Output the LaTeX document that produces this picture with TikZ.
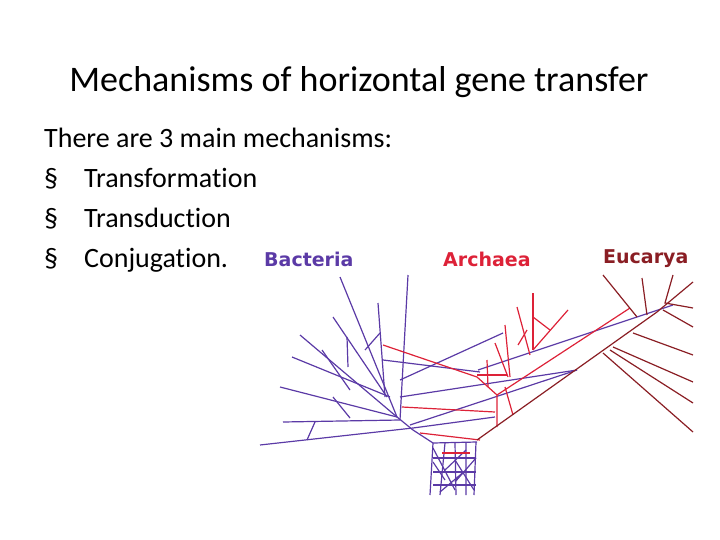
\documentclass[tikz,border=0pt]{standalone}
\usepackage{fontspec}
\setmainfont[Ligatures={NoCommon,NoRequired,NoContextual}]{Carlito}
\newfontfamily\domfont{DejaVu Sans}
\begin{document}
\begin{tikzpicture}[x=1pt,y=-1pt,
 bac/.style={draw=bacc,line width=1.2pt},
 arc/.style={draw=arcc,line width=1.2pt},
 euc/.style={draw=eucc,line width=1.2pt},
 body/.style={anchor=west,font=\fontsize{28}{30}\selectfont,inner sep=0pt},
 dom/.style={anchor=west,font=\domfont\bfseries\fontsize{19}{20}\selectfont,inner sep=0pt}]
\definecolor{bacc}{HTML}{5B3AA6}
\definecolor{arcc}{HTML}{DD2238}
\definecolor{eucc}{HTML}{8A1E24}
\useasboundingbox (0,0) rectangle (720,540);
\node[font=\fontsize{36}{40}\selectfont,inner sep=0pt] (title) at (359,82) {Mechanisms of horizontal gene transfer};
\node[body] (t0) at (44,138) {There are 3 main mechanisms:};
\node[body] (t1) at (44,179) {§\hspace{26pt}Transformation};
\node[body] (t2) at (44,219) {§\hspace{26pt}Transduction};
\node[body] (t3) at (44,260) {§\hspace{26pt}Conjugation.};
\node[dom,text=bacc] (lb) at (264,259) {Bacteria};
\node[dom,text=arcc] (la) at (443,259) {Archaea};
\node[dom,text=eucc] (le) at (603,259) {Eucarya};
% Bacteria
\draw[bac] (408,275)--(400,420);
\draw[bac] (340,277)--(397,417);
\draw[bac] (378,303)--(385,397);
\draw[bac] (333,317)--(387,397);
\draw[bac] (300,335)--(397,417);
\draw[bac] (292,357)--(390,397);
\draw[bac] (280,387)--(397,417);
\draw[bac] (283,422)--(400,420);
\draw[bac] (260,445)--(413,428);
\draw[bac] (307,440)--(315,422);
\draw[bac] (333,397)--(350,418);
\draw[bac] (322,350)--(350,390);
\draw[bac] (347,337)--(348,367);
\draw[bac] (365,350)--(380,333);
\draw[bac] (397,417)--(413,430)--(433,443);
\draw[bac] (383,360)--(480,372);
\draw[bac] (400,380)--(503,333);
\draw[bac] (400,397)--(577,370);
\draw[bac] (413,428)--(495,417);
\draw[bac] (478,370)--(673,305);
\draw[bac] (410,425)--(577,370);
\draw[bac] (433,443)--(477,442);
% roots network
\begin{scope}[line width=0.8pt]
\draw[bac] (433,443)--(430,495) (445,443)--(440,495) (455,443)--(456,495) (466,443)--(466,495) (476,442)--(474,495);
\draw[bac] (433,458)--(476,458) (433,472)--(476,472) (433,485)--(476,485);
\draw[bac] (433,448)--(455,490) (445,470)--(466,450) (455,460)--(474,490) (466,470)--(440,492) (476,458)--(455,482) (433,462)--(445,480);
\end{scope}
% Archaea
\draw[arc] (383,345)--(477,377)--(497,395)--(497,427);
\draw[arc] (497,395)--(630,308);
\draw[arc] (402,407)--(495,412);
\draw[arc] (420,433)--(480,440);
\draw[arc] (442,453)--(470,453);
\draw[arc] (505,387)--(513,415);
\draw[arc] (517,307)--(530,355);
\draw[arc] (533,293)--(533,350);
\draw[arc] (568,310)--(533,350);
\draw[arc] (533,317)--(550,330);
\draw[arc] (505,325)--(510,377);
\draw[arc] (495,343)--(508,377);
\draw[arc] (487,360)--(488,387);
\draw[arc] (477,375)--(507,375);
\draw[arc] (527,330)--(518,345);
% Eucarya
\draw[euc] (477,440)--(657,312)--(693,282);
\draw[euc] (603,275)--(637,317);
\draw[euc] (642,278)--(647,315);
\draw[euc] (673,275)--(665,303)--(693,308);
\draw[euc] (663,310)--(693,327);
\draw[euc] (633,333)--(693,355);
\draw[euc] (613,347)--(693,382);
\draw[euc] (603,353)--(693,432);
\draw[euc] (610,350)--(693,403);
\end{tikzpicture}
\end{document}
